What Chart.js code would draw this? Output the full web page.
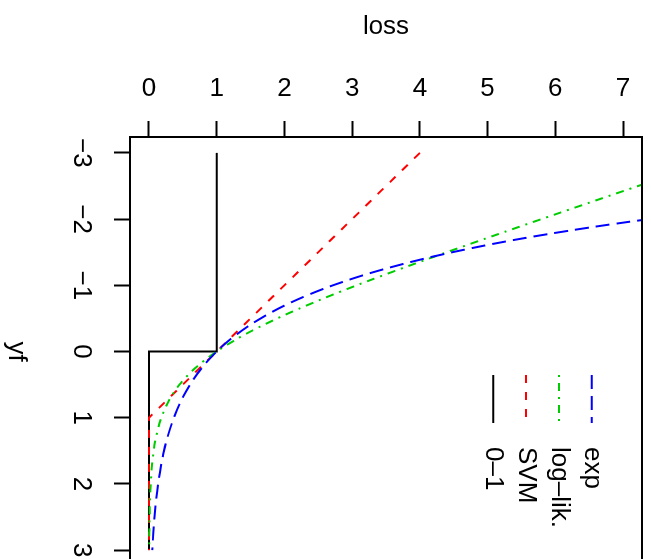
<!DOCTYPE html>
<html>
<head>
<meta charset="utf-8">
<script src="https://cdn.jsdelivr.net/npm/chart.js@4.4.0/dist/chart.umd.min.js"></script>
<style>
html,body{margin:0;padding:0;width:651px;height:559px;overflow:hidden;background:#fff;}
#wrap{position:relative;width:651px;height:559px;overflow:hidden;background:#fff;}
#c{position:absolute;left:0;top:0;width:600px;height:651px;transform-origin:0 0;transform:translateX(651px) rotate(90deg);}
</style>
</head>
<body>
<div id="wrap"><canvas id="c" width="600" height="651"></canvas></div>
<script>
// ---- data ----
const yfValues   = [-3, -2.75, -2.5, -2.25, -2, -1.75, -1.5, -1.25, -1, -0.75, -0.5, -0.25, 0,
                    0.25, 0.5, 0.75, 1, 1.25, 1.5, 1.75, 2, 2.25, 2.5, 2.75, 3];
const expLoss    = [20.09, 15.64, 12.18, 9.49, 7.389, 5.755, 4.482, 3.490, 2.718, 2.117, 1.649, 1.284, 1,
                    0.7788, 0.6065, 0.4724, 0.3679, 0.2865, 0.2231, 0.1738, 0.1353, 0.1054, 0.0821, 0.0639, 0.0498];
const logLikLoss = [8.660, 7.941, 7.223, 6.508, 5.797, 5.092, 4.398, 3.721, 3.068, 2.455, 1.895, 1.405, 1,
                    0.684, 0.452, 0.2906, 0.1831, 0.1138, 0.0701, 0.0429, 0.0262, 0.0159, 0.0097, 0.0059, 0.0036];
const svmYf      = [-3, 1, 3];
const svmLoss    = [4, 0, 0];
const zeroOneYf  = [-3, 0, 0, 3];
const zeroOneLoss= [1, 1, 0, 0];
const seriesLabels = ['exp', 'log\u2013lik.', 'SVM', '0\u20131'];
const yfTicks    = [-3, -2, -1, 0, 1, 2, 3];
const lossTicks  = [0, 1, 2, 3, 4, 5, 6, 7];
const xTitle = 'yf';
const yTitle = 'loss';

// ---- chart ----
const FONT = {family: '"Liberation Sans", Arial, Helvetica, sans-serif', size: 26};
const pts = (xs, ys) => xs.map((x, i) => ({x: x, y: ys[i]}));

const boxPlugin = {
  id: 'rBox',
  afterDraw(chart) {
    const a = chart.chartArea, ctx = chart.ctx;
    ctx.save();
    ctx.strokeStyle = '#000';
    ctx.lineWidth = 2;
    ctx.strokeRect(a.left, a.top, a.right - a.left, a.bottom - a.top);
    ctx.restore();
  }
};

const legendPlugin = {
  id: 'rLegend',
  afterDatasetsDraw(chart) {
    const a = chart.chartArea, ctx = chart.ctx;
    const rowStart = a.top + 50.3, rowStep = 32.8;
    const x1 = 375, x2 = 423, tx = 447;
    chart.data.datasets.forEach((ds, i) => {
      const y = rowStart + i * rowStep;
      ctx.save();
      ctx.strokeStyle = ds.borderColor;
      ctx.lineWidth = ds.borderWidth;
      ctx.setLineDash(ds.borderDash || []);
      ctx.beginPath();
      ctx.moveTo(x1, y);
      ctx.lineTo(x2, y);
      ctx.stroke();
      ctx.setLineDash([]);
      ctx.fillStyle = '#000';
      ctx.font = FONT.size + 'px ' + FONT.family;
      ctx.textBaseline = 'middle';
      ctx.textAlign = 'left';
      ctx.fillText(ds.label, tx, y);
      ctx.restore();
    });
  }
};

const minus = v => String(v).replace('-', '\u2212');
const noPad = s => { s.paddingTop = 0; s.paddingBottom = 0; s.paddingLeft = 0; s.paddingRight = 0; };

new Chart(document.getElementById('c'), {
  type: 'line',
  data: {
    datasets: [
      {label: seriesLabels[0], data: pts(yfValues, expLoss), borderColor: '#0000FF', borderWidth: 2,
       borderDash: [14, 7], cubicInterpolationMode: 'monotone', pointRadius: 0, fill: false},
      {label: seriesLabels[1], data: pts(yfValues, logLikLoss), borderColor: '#00CD00', borderWidth: 2,
       borderDash: [2, 6, 8, 6], cubicInterpolationMode: 'monotone', pointRadius: 0, fill: false},
      {label: seriesLabels[2], data: pts(svmYf, svmLoss), borderColor: '#FF0000', borderWidth: 2,
       borderDash: [8, 9], tension: 0, pointRadius: 0, fill: false},
      {label: seriesLabels[3], data: pts(zeroOneYf, zeroOneLoss), borderColor: '#000000', borderWidth: 2,
       borderDash: [], tension: 0, pointRadius: 0, fill: false}
    ]
  },
  options: {
    responsive: false,
    devicePixelRatio: 1,
    animation: false,
    events: [],
    layout: {padding: {top: 9, right: 34, bottom: 0, left: 0}},
    plugins: {legend: {display: false}, tooltip: {enabled: false}, title: {display: false}},
    scales: {
      x: {
        type: 'linear', position: 'bottom', min: -3.24, max: 3.24,
        afterBuildTicks: s => { s.ticks = yfTicks.map(v => ({value: v})); },
        afterFit: s => { s.height = 130; noPad(s); },
        ticks: {font: FONT, color: '#000', padding: 17, autoSkip: false, minRotation: 0, maxRotation: 0,
                callback: v => minus(v)},
        grid: {display: true, drawOnChartArea: false, drawTicks: true, tickLength: 16, tickWidth: 2, tickColor: '#000'},
        border: {display: false},
        title: {display: true, text: xTitle, font: FONT, color: '#000', padding: {top: 0, bottom: 1}}
      },
      y: {
        type: 'linear', position: 'left', min: -0.28, max: 7.28,
        afterBuildTicks: s => { s.ticks = lossTicks.map(v => ({value: v})); },
        afterFit: s => { s.width = 137; noPad(s); },
        ticks: {font: FONT, color: '#000', padding: 24.6, autoSkip: false, minRotation: 90, maxRotation: 90,
                crossAlign: 'center', callback: v => minus(v)},
        grid: {display: true, drawOnChartArea: false, drawTicks: true, tickLength: 16, tickWidth: 2, tickColor: '#000'},
        border: {display: false},
        title: {display: true, text: yTitle, font: FONT, color: '#000', padding: {top: 11, bottom: 0}}
      }
    }
  },
  plugins: [boxPlugin, legendPlugin]
});
</script>
</body>
</html>
